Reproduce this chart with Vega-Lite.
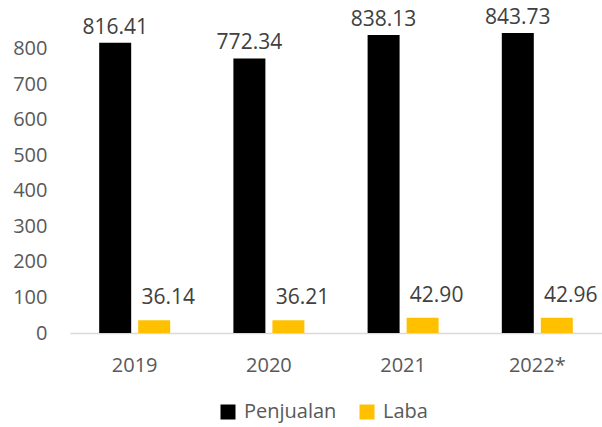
{
  "$schema": "https://vega.github.io/schema/vega-lite/v6.json",
  "width": 532,
  "height": 320,
  "autosize": {"type": "none"},
  "padding": {"left": 70, "top": 13, "right": 0, "bottom": 94},
  "config": {"view": {"stroke": null}, "font": "Open Sans"},
  "data": {
    "values": [
      {"year": "2019", "series": "Penjualan", "value": 816.41},
      {"year": "2019", "series": "Laba", "value": 36.14},
      {"year": "2020", "series": "Penjualan", "value": 772.34},
      {"year": "2020", "series": "Laba", "value": 36.21},
      {"year": "2021", "series": "Penjualan", "value": 838.13},
      {"year": "2021", "series": "Laba", "value": 42.90},
      {"year": "2022*", "series": "Penjualan", "value": 843.73},
      {"year": "2022*", "series": "Laba", "value": 42.96}
    ]
  },
  "encoding": {
    "x": {
      "field": "year",
      "type": "nominal",
      "sort": null,
      "scale": {"paddingInner": 0.471, "paddingOuter": 0.2175},
      "axis": {
        "title": null,
        "labelAngle": 0,
        "ticks": false,
        "domainColor": "#D9D9D9",
        "domainWidth": 1.5,
        "labelFont": "Open Sans",
        "labelFontSize": 20,
        "labelColor": "#595959",
        "labelPadding": 22
      }
    },
    "xOffset": {
      "field": "series",
      "type": "nominal",
      "sort": ["Penjualan", "Laba"],
      "scale": {"paddingInner": 0.18, "paddingOuter": 0}
    },
    "y": {
      "field": "value",
      "type": "quantitative",
      "scale": {"domain": [0, 900], "nice": false},
      "axis": {
        "title": null,
        "values": [0, 100, 200, 300, 400, 500, 600, 700, 800],
        "grid": false,
        "domain": false,
        "ticks": false,
        "labelPadding": 23,
        "labelFont": "Open Sans",
        "labelFontSize": 20,
        "labelColor": "#595959"
      }
    }
  },
  "layer": [
    {
      "mark": {"type": "bar"},
      "encoding": {
        "color": {
          "field": "series",
          "type": "nominal",
          "sort": ["Penjualan", "Laba"],
          "scale": {"domain": ["Penjualan", "Laba"], "range": ["#000000", "#FFC000"]},
          "legend": {
            "title": null,
            "orient": "none",
            "direction": "horizontal",
            "legendX": 148,
            "legendY": 389,
            "symbolType": "square",
            "symbolSize": 225,
            "symbolStrokeWidth": 0,
            "labelFont": "Open Sans",
            "labelFontSize": 20,
            "labelColor": "#595959",
            "columnPadding": 20,
            "labelOffset": 6
          }
        }
      }
    },
    {
      "transform": [{"filter": "datum.series === 'Penjualan'"}],
      "mark": {"type": "text", "baseline": "middle", "dy": -15, "fontSize": 21, "font": "Open Sans", "color": "#404040"},
      "encoding": {"text": {"field": "value", "type": "quantitative", "format": ".2f"}}
    },
    {
      "transform": [{"filter": "datum.series === 'Laba'"}],
      "mark": {"type": "text", "baseline": "middle", "dx": 14, "dy": -22, "fontSize": 21, "font": "Open Sans", "color": "#404040"},
      "encoding": {"text": {"field": "value", "type": "quantitative", "format": ".2f"}}
    }
  ]
}
